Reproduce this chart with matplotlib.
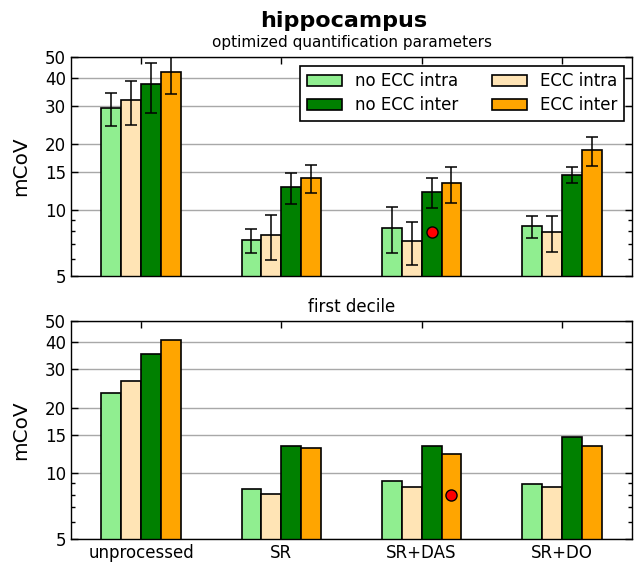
import numpy as np
import matplotlib
matplotlib.use('Agg')
import matplotlib.pyplot as plt
from matplotlib.ticker import FixedLocator, ScalarFormatter, NullFormatter

groups = ['unprocessed', 'SR', 'SR+DAS', 'SR+DO']
series = ['no ECC intra', 'ECC intra', 'no ECC inter', 'ECC inter']
colors = ['#90ee90', '#ffe4b5', '#008000', '#ffa500']

# optimized quantification parameters (mean, lower / upper bound of error bar)
opt_vals = {
    'no ECC intra': [29.3, 7.28, 8.31, 8.46],
    'ECC intra':    [31.8, 7.69, 7.20, 7.94],
    'no ECC inter': [37.6, 12.75, 12.1, 14.5],
    'ECC inter':    [42.6, 14.0, 13.3, 18.75],
}
opt_lo = {
    'no ECC intra': [24.3, 6.35, 6.35, 7.45],
    'ECC intra':    [24.5, 5.92, 5.59, 6.43],
    'no ECC inter': [27.9, 10.6, 10.19, 13.24],
    'ECC inter':    [33.9, 11.9, 10.8, 15.95],
}
opt_hi = {
    'no ECC intra': [34.4, 8.20, 10.37, 9.43],
    'ECC intra':    [39.0, 9.49, 8.80, 9.39],
    'no ECC inter': [47.1, 14.8, 14.06, 15.7],
    'ECC inter':    [52.0, 16.0, 15.7, 21.5],
}

# first decile
dec_vals = {
    'no ECC intra': [23.4, 8.52, 9.27, 8.98],
    'ECC intra':    [26.55, 8.03, 8.65, 8.70],
    'no ECC inter': [35.2, 13.36, 13.4, 14.64],
    'ECC inter':    [40.6, 13.13, 12.31, 13.36],
}

# red reference points: (group, series, value)
opt_ref = ('SR+DAS', 'no ECC inter', 7.94)
dec_ref = ('SR+DAS', 'ECC inter', 7.95)

plt.rcParams['font.family'] = 'DejaVu Sans'
plt.rcParams['xtick.direction'] = 'in'
plt.rcParams['ytick.direction'] = 'in'
plt.rcParams['xtick.top'] = True
plt.rcParams['ytick.right'] = True

fig = plt.figure(figsize=(6.36, 5.65), dpi=100)
ax1 = fig.add_axes([0.1116, 0.5115, 0.8821, 0.3875])
ax2 = fig.add_axes([0.1116, 0.0455, 0.8821, 0.3869])

width = 0.142
x = np.arange(len(groups))


def offset(i):
    return (i - 1.5) * width


def style_axis(ax):
    ax.set_yscale('log')
    ax.set_ylim(5, 50)
    ax.set_xlim(-0.5, len(groups) - 0.5)
    ax.yaxis.set_major_locator(FixedLocator([5, 10, 15, 20, 30, 40, 50]))
    ax.yaxis.set_major_formatter(ScalarFormatter())
    ax.yaxis.set_minor_locator(FixedLocator([6, 7, 8, 9]))
    ax.yaxis.set_minor_formatter(NullFormatter())
    ax.set_xticks(x)
    ax.yaxis.grid(True, which='major', color='#a8a8a8', linewidth=1)
    ax.set_axisbelow(True)
    ax.tick_params(which='major', length=5, width=1, labelsize=12)
    ax.tick_params(which='minor', length=3, width=1)
    ax.set_ylabel('mCoV', fontsize=14.4)
    ax.yaxis.set_label_coords(-0.073, 0.5)
    for s in ax.spines.values():
        s.set_linewidth(1)


for i, name in enumerate(series):
    vals = np.array(opt_vals[name])
    yerr = [vals - np.array(opt_lo[name]), np.array(opt_hi[name]) - vals]
    ax1.bar(x + offset(i), vals, width, bottom=0.01, color=colors[i],
            edgecolor='black', linewidth=1.2, label=name, zorder=2,
            yerr=yerr, error_kw=dict(ecolor='black', elinewidth=1.1,
                                     capsize=4, capthick=1.1))
    ax2.bar(x + offset(i), dec_vals[name], width, bottom=0.01, color=colors[i],
            edgecolor='black', linewidth=1.2, zorder=2)

for ax, ref in [(ax1, opt_ref), (ax2, dec_ref)]:
    gi = groups.index(ref[0])
    si = series.index(ref[1])
    ax.plot(x[gi] + offset(si), ref[2], 'o', color='red',
            markeredgecolor='black', markersize=8, zorder=4)

style_axis(ax1)
style_axis(ax2)
ax1.set_xticklabels([])
ax2.set_xticklabels(groups, fontsize=12)

handles, labels = ax1.get_legend_handles_labels()
order = [0, 2, 1, 3]
leg = ax1.legend([handles[k] for k in order], [labels[k] for k in order],
                 ncol=2, loc='upper right', fontsize=12, fancybox=False,
                 edgecolor='black', framealpha=1, handlelength=2.1,
                 handleheight=0.7, columnspacing=2.0, labelspacing=0.35,
                 borderaxespad=0, bbox_to_anchor=(0.9857, 0.960))
leg.get_frame().set_linewidth(1.2)

fig.text(0.540, 0.963, 'hippocampus', fontsize=16, fontweight='bold',
         ha='center', va='center')
fig.text(0.553, 0.925, 'optimized quantification parameters', fontsize=11,
         ha='center', va='center')
fig.text(0.553, 0.457, 'first decile', fontsize=12, ha='center', va='center')

fig.savefig('out.png', dpi=100)
